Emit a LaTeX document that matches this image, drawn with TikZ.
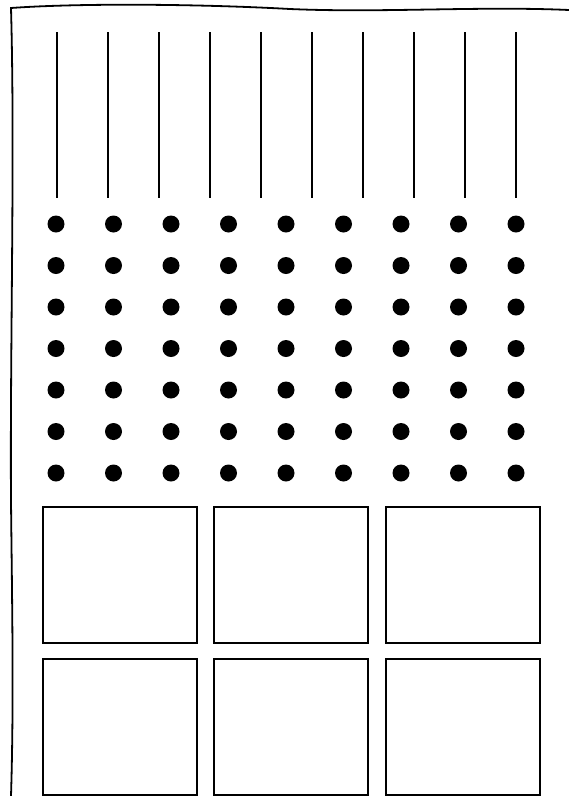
\documentclass[tikz,border=0pt]{standalone}
\begin{document}
\begin{tikzpicture}[x=1pt,y=-1pt,
  line width=2pt,
  dotnode/.style={circle,fill=black,draw=none,minimum size=17pt,inner sep=0pt},
  boxnode/.style={rectangle,draw=black,line width=2pt,minimum width=154pt,minimum height=136pt,inner sep=0pt},
  edge line/.style={line width=1.8pt,line cap=round}]
\useasboundingbox (0,0) rectangle (569,796);
% wavy border
\coordinate (tl) at (11,8);
\coordinate (tr) at (569,10);
\coordinate (bl) at (11,796);
\draw[edge line] (tr) .. controls (480,6) and (380,13) .. (290,9) .. controls (200,4) and (80,3) .. (tl)
  .. controls (15,150) and (10,350) .. (11,500) .. controls (12,600) and (14,700) .. (bl);
% vertical lines
\foreach \i/\x in {1/57,2/108,3/159,4/210,5/261,6/312,7/363,8/414,9/465,10/516}{
  \coordinate (t\i) at (\x,32);
  \coordinate (b\i) at (\x,198);
  \draw[line width=2pt] (t\i) -- (b\i);
}
% dots
\foreach \c/\x in {1/56,2/113.5,3/171,4/228.5,5/286,6/343.5,7/401,8/458.5,9/516}{
  \foreach \r/\y in {1/224,2/265.5,3/307,4/348.5,5/390,6/431.5,7/473}{
    \node[dotnode] (d\c-\r) at (\x,\y) {};
  }
}
% boxes
\foreach \c/\x in {1/120,2/291,3/463}{
  \node[boxnode] (s\c-1) at (\x,575) {};
  \node[boxnode] (s\c-2) at (\x,727) {};
}
\end{tikzpicture}
\end{document}
